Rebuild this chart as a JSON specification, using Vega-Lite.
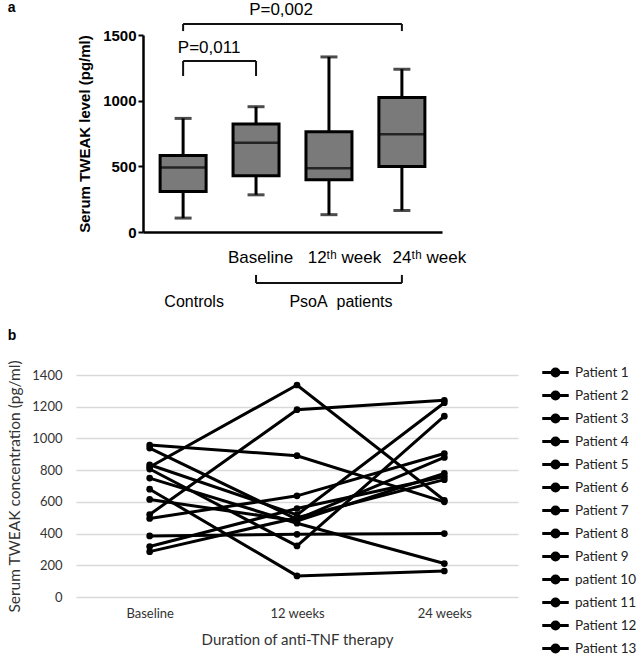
{
  "$schema": "https://vega.github.io/schema/vega-lite/v6.json",
  "padding": {"left": 7, "top": 1, "right": 0, "bottom": 0},
  "background": "white",
  "config": {"view": {"stroke": null}, "font": "Liberation Sans"},
  "title": {"text": "a", "anchor": "start", "frame": "bounds", "offset": -14, "fontSize": 14, "fontWeight": "bold", "font": "Liberation Sans", "color": "black"},
  "spacing": 18,
  "resolve": {"legend": {"color": "independent"}},
  "vconcat": [
    {
      "spacing": 0,
      "hconcat": [
        {"width": 1, "height": 1, "data": {"values": []}, "mark": "point"},
        {
          "width": 299,
          "height": 197,
          "data": {"values": [
            {"group": "Controls", "min": 106, "q1": 309, "median": 491, "q3": 582, "max": 865},
            {"group": "Baseline", "min": 283, "q1": 428, "median": 680, "q3": 822, "max": 954},
            {"group": "12th week", "min": 132, "q1": 397, "median": 486, "q3": 764, "max": 1333},
            {"group": "24th week", "min": 164, "q1": 498, "median": 744, "q3": 1025, "max": 1240}
          ]},
          "layer": [
            {
              "mark": {"type": "rule", "strokeWidth": 3, "color": "black"},
              "encoding": {
                "x": {"field": "group", "type": "nominal",
                  "scale": {"type": "point", "padding": 0.55, "domain": ["Controls", "Baseline", "12th week", "24th week"]},
                  "axis": {"title": null, "ticks": false, "domainWidth": 2.5, "domainColor": "black", "labelAngle": 0,
                    "labelExpr": "datum.value == 'Controls' ? '' : datum.value == '12th week' ? '12ᵗʰ week' : datum.value == '24th week' ? '24ᵗʰ week' : datum.label",
                    "labelFont": "Liberation Sans", "labelFontSize": 17, "labelColor": "black", "labelPadding": 17,
                    "labelOffset": {"condition": [{"test": "datum.value == '24th week'", "value": 27}, {"test": "datum.value == '12th week'", "value": 15}], "value": 4}}},
                "y": {"field": "min", "type": "quantitative", "title": "Serum TWEAK level (pg/ml)",
                  "scale": {"domain": [0, 1500], "nice": false},
                  "axis": {"values": [0, 250, 500, 750, 1000, 1250, 1500], "format": "d", "grid": false, "domainWidth": 2.5, "domainColor": "black",
                    "tickColor": "black", "tickWidth": 2, "tickSize": 5, "labelPadding": 2, "labelFont": "Liberation Sans",
                    "labelFontSize": 15, "labelFontWeight": "bold", "labelColor": "black",
                    "titleFont": "Liberation Sans", "titleFontSize": 15, "titleFontWeight": "bold", "titleColor": "black", "titlePadding": 10}},
                "y2": {"field": "max"}
              }
            },
            {
              "mark": {"type": "bar", "size": 46, "fill": "#7a7a7a", "stroke": "black", "strokeWidth": 3},
              "encoding": {
                "x": {"field": "group", "type": "nominal"},
                "y": {"field": "q1", "type": "quantitative", "title": "Serum TWEAK level (pg/ml)"},
                "y2": {"field": "q3"}
              }
            },
            {
              "mark": {"type": "tick", "orient": "horizontal", "size": 46, "thickness": 2.5, "color": "black"},
              "encoding": {
                "x": {"field": "group", "type": "nominal"},
                "y": {"field": "median", "type": "quantitative", "title": "Serum TWEAK level (pg/ml)"}
              }
            },
            {
              "mark": {"type": "tick", "orient": "horizontal", "size": 17, "thickness": 3, "color": "black"},
              "encoding": {
                "x": {"field": "group", "type": "nominal"},
                "y": {"field": "min", "type": "quantitative", "title": "Serum TWEAK level (pg/ml)"}
              }
            },
            {
              "mark": {"type": "tick", "orient": "horizontal", "size": 17, "thickness": 3, "color": "black"},
              "encoding": {
                "x": {"field": "group", "type": "nominal"},
                "y": {"field": "max", "type": "quantitative", "title": "Serum TWEAK level (pg/ml)"}
              }
            },
            {"data": {"values": [{}]}, "mark": {"type": "rule", "strokeWidth": 2, "color": "#111"},
              "encoding": {"x": {"datum": "Controls"}, "x2": {"datum": "Baseline"}, "y": {"datum": 1302}}},
            {"data": {"values": [{}]}, "mark": {"type": "rule", "strokeWidth": 2, "color": "#111"},
              "encoding": {"x": {"datum": "Controls"}, "y": {"datum": 1188}, "y2": {"datum": 1302}}},
            {"data": {"values": [{}]}, "mark": {"type": "rule", "strokeWidth": 2, "color": "#111"},
              "encoding": {"x": {"datum": "Baseline"}, "y": {"datum": 1188}, "y2": {"datum": 1302}}},
            {"data": {"values": [{}]}, "mark": {"type": "rule", "strokeWidth": 2, "color": "#111"},
              "encoding": {"x": {"datum": "Controls"}, "x2": {"datum": "24th week"}, "y": {"datum": 1584}}},
            {"data": {"values": [{}]}, "mark": {"type": "rule", "strokeWidth": 2, "color": "#111"},
              "encoding": {"x": {"datum": "Controls"}, "y": {"datum": 1530}, "y2": {"datum": 1584}}},
            {"data": {"values": [{}]}, "mark": {"type": "rule", "strokeWidth": 2, "color": "#111"},
              "encoding": {"x": {"datum": "24th week"}, "y": {"datum": 1530}, "y2": {"datum": 1584}}},
            {"data": {"values": [{}]}, "mark": {"type": "rule", "strokeWidth": 2, "color": "#111"},
              "encoding": {"x": {"datum": "Baseline"}, "x2": {"datum": "24th week"}, "y": {"datum": -388}}},
            {"data": {"values": [{}]}, "mark": {"type": "rule", "strokeWidth": 2, "color": "#111"},
              "encoding": {"x": {"datum": "Baseline"}, "y": {"datum": -388}, "y2": {"datum": -327}}},
            {"data": {"values": [{}]}, "mark": {"type": "rule", "strokeWidth": 2, "color": "#111"},
              "encoding": {"x": {"datum": "24th week"}, "y": {"datum": -388}, "y2": {"datum": -327}}},
            {"data": {"values": [{}]}, "mark": {"type": "text", "text": "P=0,011", "fontSize": 17, "font": "Liberation Sans", "color": "black", "dx": 26, "baseline": "middle"},
              "encoding": {"x": {"datum": "Controls"}, "y": {"datum": 1401}}},
            {"data": {"values": [{}]}, "mark": {"type": "text", "text": "P=0,002", "fontSize": 17, "font": "Liberation Sans", "color": "black", "dx": 25, "baseline": "middle"},
              "encoding": {"x": {"datum": "Baseline"}, "y": {"datum": 1690}}},
            {"data": {"values": [{}]}, "mark": {"type": "text", "text": "Controls", "fontSize": 16, "font": "Liberation Sans", "color": "black", "dx": 11, "baseline": "middle"},
              "encoding": {"x": {"datum": "Controls"}, "y": {"datum": -533}}},
            {"data": {"values": [{}]}, "mark": {"type": "text", "text": "PsoA\u00a0 patients", "fontSize": 16, "font": "Liberation Sans", "color": "black", "dx": 12, "baseline": "middle"},
              "encoding": {"x": {"datum": "12th week"}, "y": {"datum": -533}}}
          ]
        }
      ]
    },
    {
      "width": 442,
      "height": 222,
      "title": {"text": "b", "anchor": "start", "frame": "bounds", "fontSize": 14, "fontWeight": "bold", "font": "Liberation Sans", "color": "black", "offset": 16},
      "data": {"values": [
        {"patient": "Patient 1", "time": "Baseline", "value": 820},
        {"patient": "Patient 1", "time": "12 weeks", "value": 1337},
        {"patient": "Patient 1", "time": "24 weeks", "value": 610},
        {"patient": "Patient 2", "time": "Baseline", "value": 520},
        {"patient": "Patient 2", "time": "12 weeks", "value": 1181},
        {"patient": "Patient 2", "time": "24 weeks", "value": 1240},
        {"patient": "Patient 3", "time": "Baseline", "value": 958},
        {"patient": "Patient 3", "time": "12 weeks", "value": 891},
        {"patient": "Patient 3", "time": "24 weeks", "value": 600},
        {"patient": "Patient 4", "time": "Baseline", "value": 680},
        {"patient": "Patient 4", "time": "12 weeks", "value": 133},
        {"patient": "Patient 4", "time": "24 weeks", "value": 164},
        {"patient": "Patient 5", "time": "Baseline", "value": 385},
        {"patient": "Patient 5", "time": "12 weeks", "value": 395},
        {"patient": "Patient 5", "time": "24 weeks", "value": 400},
        {"patient": "Patient 6", "time": "Baseline", "value": 495},
        {"patient": "Patient 6", "time": "12 weeks", "value": 638},
        {"patient": "Patient 6", "time": "24 weeks", "value": 905},
        {"patient": "Patient 7", "time": "Baseline", "value": 939},
        {"patient": "Patient 7", "time": "12 weeks", "value": 490},
        {"patient": "Patient 7", "time": "24 weeks", "value": 880},
        {"patient": "Patient 8", "time": "Baseline", "value": 834},
        {"patient": "Patient 8", "time": "12 weeks", "value": 518},
        {"patient": "Patient 8", "time": "24 weeks", "value": 1225},
        {"patient": "Patient 9", "time": "Baseline", "value": 807},
        {"patient": "Patient 9", "time": "12 weeks", "value": 322},
        {"patient": "Patient 9", "time": "24 weeks", "value": 1140},
        {"patient": "patient 10", "time": "Baseline", "value": 750},
        {"patient": "patient 10", "time": "12 weeks", "value": 465},
        {"patient": "patient 10", "time": "24 weeks", "value": 211},
        {"patient": "patient 11", "time": "Baseline", "value": 615},
        {"patient": "patient 11", "time": "12 weeks", "value": 480},
        {"patient": "patient 11", "time": "24 weeks", "value": 780},
        {"patient": "Patient 12", "time": "Baseline", "value": 318},
        {"patient": "Patient 12", "time": "12 weeks", "value": 558},
        {"patient": "Patient 12", "time": "24 weeks", "value": 760},
        {"patient": "Patient 13", "time": "Baseline", "value": 286},
        {"patient": "Patient 13", "time": "12 weeks", "value": 500},
        {"patient": "Patient 13", "time": "24 weeks", "value": 740}
      ]},
      "mark": {"type": "line", "strokeWidth": 3, "point": {"filled": true, "size": 45}},
      "encoding": {
        "x": {"field": "time", "type": "nominal",
          "scale": {"type": "point", "padding": 0.5, "domain": ["Baseline", "12 weeks", "24 weeks"]},
          "axis": {"title": "Duration of anti-TNF therapy", "labelAngle": 0, "domain": false, "ticks": false,
            "labelFont": "Lato", "labelFontSize": 13, "labelColor": "#333", "labelPadding": 10,
            "titleFont": "Lato", "titleFontSize": 15, "titleFontWeight": "normal", "titleColor": "#333", "titlePadding": 12}},
        "y": {"field": "value", "type": "quantitative",
          "scale": {"domain": [0, 1400], "nice": false},
          "axis": {"title": "Serum TWEAK concentration (pg/ml)", "values": [0, 200, 400, 600, 800, 1000, 1200, 1400], "format": "d",
            "domain": false, "ticks": false, "gridColor": "#d9d9d9", "gridWidth": 1.5,
            "labelFont": "Lato", "labelFontSize": 13, "labelColor": "#333", "labelPadding": 14,
            "titleFont": "Lato", "titleFontSize": 15.5, "titleFontWeight": "normal", "titleColor": "#333", "titlePadding": 9}},
        "color": {"field": "patient", "type": "nominal",
          "scale": {"domain": ["Patient 1", "Patient 2", "Patient 3", "Patient 4", "Patient 5", "Patient 6", "Patient 7", "Patient 8", "Patient 9", "patient 10", "patient 11", "Patient 12", "Patient 13"], "range": ["black"]},
          "legend": {"title": null, "orient": "none", "direction": "vertical", "legendX": 466, "legendY": -16,
            "symbolType": "M-1.15,0L1.15,0M-0.3,0A0.3,0.3,0,1,1,0.3,0A0.3,0.3,0,1,1,-0.3,0Z",
            "symbolSize": 530, "symbolStrokeWidth": 3, "symbolStrokeColor": "black", "symbolFillColor": "black",
            "labelFont": "Lato", "labelFontSize": 13.5, "labelColor": "#222", "labelOffset": 6, "rowPadding": 0, "padding": 0}}
      }
    }
  ]
}
